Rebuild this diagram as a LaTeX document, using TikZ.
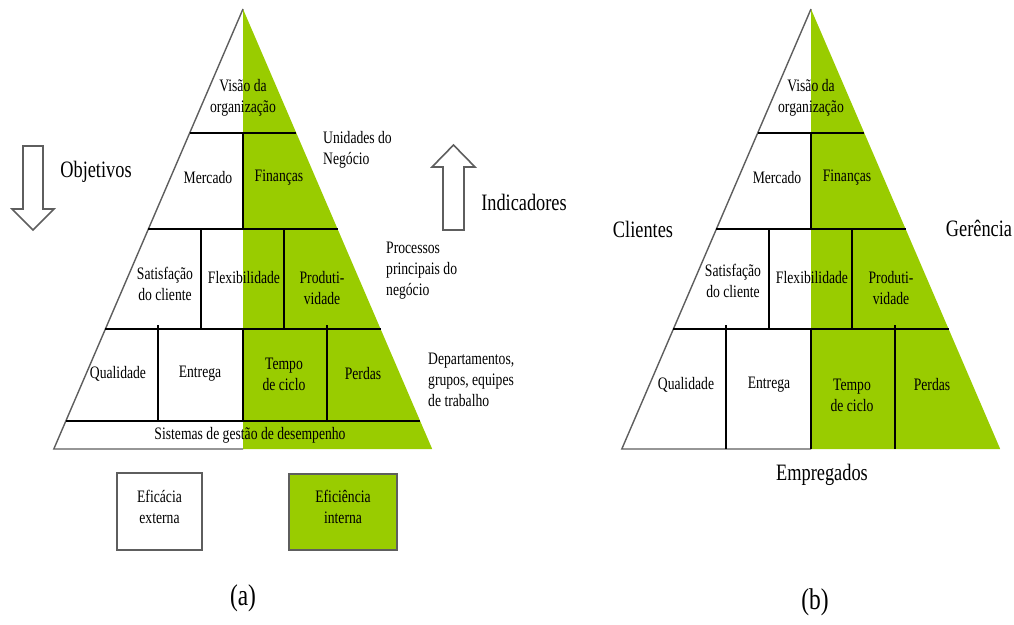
\documentclass[tikz,border=0pt]{standalone}
\usepackage{fontspec}
\setmainfont[FakeStretch=0.78]{Liberation Serif}
\definecolor{leafgreen}{HTML}{99CC00}
\definecolor{edgegray}{HTML}{5E5E5E}
\tikzset{
  cell/.style={font=\fontsize{17.5}{21}\selectfont, align=center, inner sep=0pt},
  side/.style={font=\fontsize{17.5}{21}\selectfont, align=left, anchor=west, inner sep=0pt},
  biglabel/.style={font=\fontsize{23.5}{28}\selectfont, inner sep=0pt},
  tag/.style={font=\fontsize{30}{34}\selectfont, inner sep=0pt},
  rowline/.style={black, line width=1.3pt},
  outline/.style={edgegray, line width=1.4pt},
  blockarrow/.style={edgegray, line width=1.6pt, line join=miter},
  legendbox/.style={draw=edgegray, line width=2pt, align=center, text depth=10pt,
    font=\fontsize{17.5}{21}\selectfont}
}
\begin{document}
\begin{tikzpicture}[x=1pt, y=-1pt]
  \useasboundingbox (0,0) rectangle (1014,624);

  % (a)
  \fill[leafgreen] (243,9) -- (432.2,449) -- (243,449) -- cycle;
  \draw[outline] (243,449) -- (53.8,449) -- (243,9);
  \draw[rowline] (189.7,133) -- (296.3,133)
                 (148.4,229) -- (337.6,229)
                 (105.4,329) -- (380.6,329)
                 (65.8,421) -- (420.2,421);
  \draw[rowline] (243,133) -- (243,229)
                 (201,229) -- (201,329)
                 (284,229) -- (284,329)
                 (158,325) -- (158,421)
                 (243,329) -- (243,421)
                 (327,325) -- (327,421);

  \node[cell] at (243,98)  (visao-a)    {Visão da\\organização};
  \node[cell] at (208,178) (mercado-a)  {Mercado};
  \node[cell] at (279,178) (financas-a) {Finanças};
  \node[cell] at (165,284) (satisf-a)   {Satisfação\\do cliente};
  \node[cell] at (244,278) (flex-a)     {Flexibilidade};
  \node[cell] at (322,288) (produt-a)   {Produti-\\vidade};
  \node[cell] at (118,374) (qual-a)     {Qualidade};
  \node[cell] at (200,374) (entrega-a)  {Entrega};
  \node[cell] at (284,374) (tempo-a)    {Tempo\\de ciclo};
  \node[cell] at (363,374) (perdas-a)   {Perdas};
  \node[cell] at (250,435) (sistemas)   {Sistemas de gestão de desempenho};

  \node[side] at (323,150) (unidades)  {Unidades do\\Negócio};
  \node[side] at (386,271) (processos) {Processos\\principais do\\negócio};
  \node[side] at (428,380) (deptos)    {Departamentos,\\grupos, equipes\\de trabalho};

  \draw[blockarrow] (23,146) -- (43,146) -- (43,209) -- (54,209) -- (33,230)
                    -- (12,209) -- (23,209) -- cycle;
  \draw[blockarrow] (443,230) -- (464,230) -- (464,167) -- (475,167) -- (453.5,145)
                    -- (432,167) -- (443,167) -- cycle;
  \node[biglabel] at (96,172)  (objetivos)   {Objetivos};
  \node[biglabel] at (524,202) (indicadores) {Indicadores};

  \node[legendbox, minimum width=85, minimum height=77] at (159.5,511.5) (eficacia)
       {Eficácia\\externa};
  \node[legendbox, fill=leafgreen, minimum width=108, minimum height=76] at (343,512) (eficiencia)
       {Eficiência\\interna};
  \node[tag] at (243,598) (tag-a) {(a)};

  % (b)
  \begin{scope}[shift={(568,0)}]
    \fill[leafgreen] (243,9) -- (432.2,449) -- (243,449) -- cycle;
    \draw[outline] (243,449) -- (53.8,449) -- (243,9);
    \draw[rowline] (189.7,133) -- (296.3,133)
                   (148.4,229) -- (337.6,229)
                   (105.4,329) -- (380.6,329);
    \draw[rowline] (243,133) -- (243,229)
                   (201,229) -- (201,329)
                   (284,229) -- (284,329)
                   (158,325) -- (158,449)
                   (243,329) -- (243,449)
                   (327,325) -- (327,449);

    \node[cell] at (243,98)  (visao-b)    {Visão da\\organização};
    \node[cell] at (209,178) (mercado-b)  {Mercado};
    \node[cell] at (279,178) (financas-b) {Finanças};
    \node[cell] at (165,281) (satisf-b)   {Satisfação\\do cliente};
    \node[cell] at (244,278) (flex-b)     {Flexibilidade};
    \node[cell] at (323,288) (produt-b)   {Produti-\\vidade};
    \node[cell] at (118,385) (qual-b)     {Qualidade};
    \node[cell] at (201,385) (entrega-b)  {Entrega};
    \node[cell] at (284,395) (tempo-b)    {Tempo\\de ciclo};
    \node[cell] at (364,385) (perdas-b)   {Perdas};
  \end{scope}

  \node[biglabel] at (643,229) (clientes)   {Clientes};
  \node[biglabel] at (979,228) (gerencia)   {Gerência};
  \node[biglabel] at (822,475) (empregados) {Empregados};
  \node[tag] at (815,602) (tag-b) {(b)};
\end{tikzpicture}
\end{document}
